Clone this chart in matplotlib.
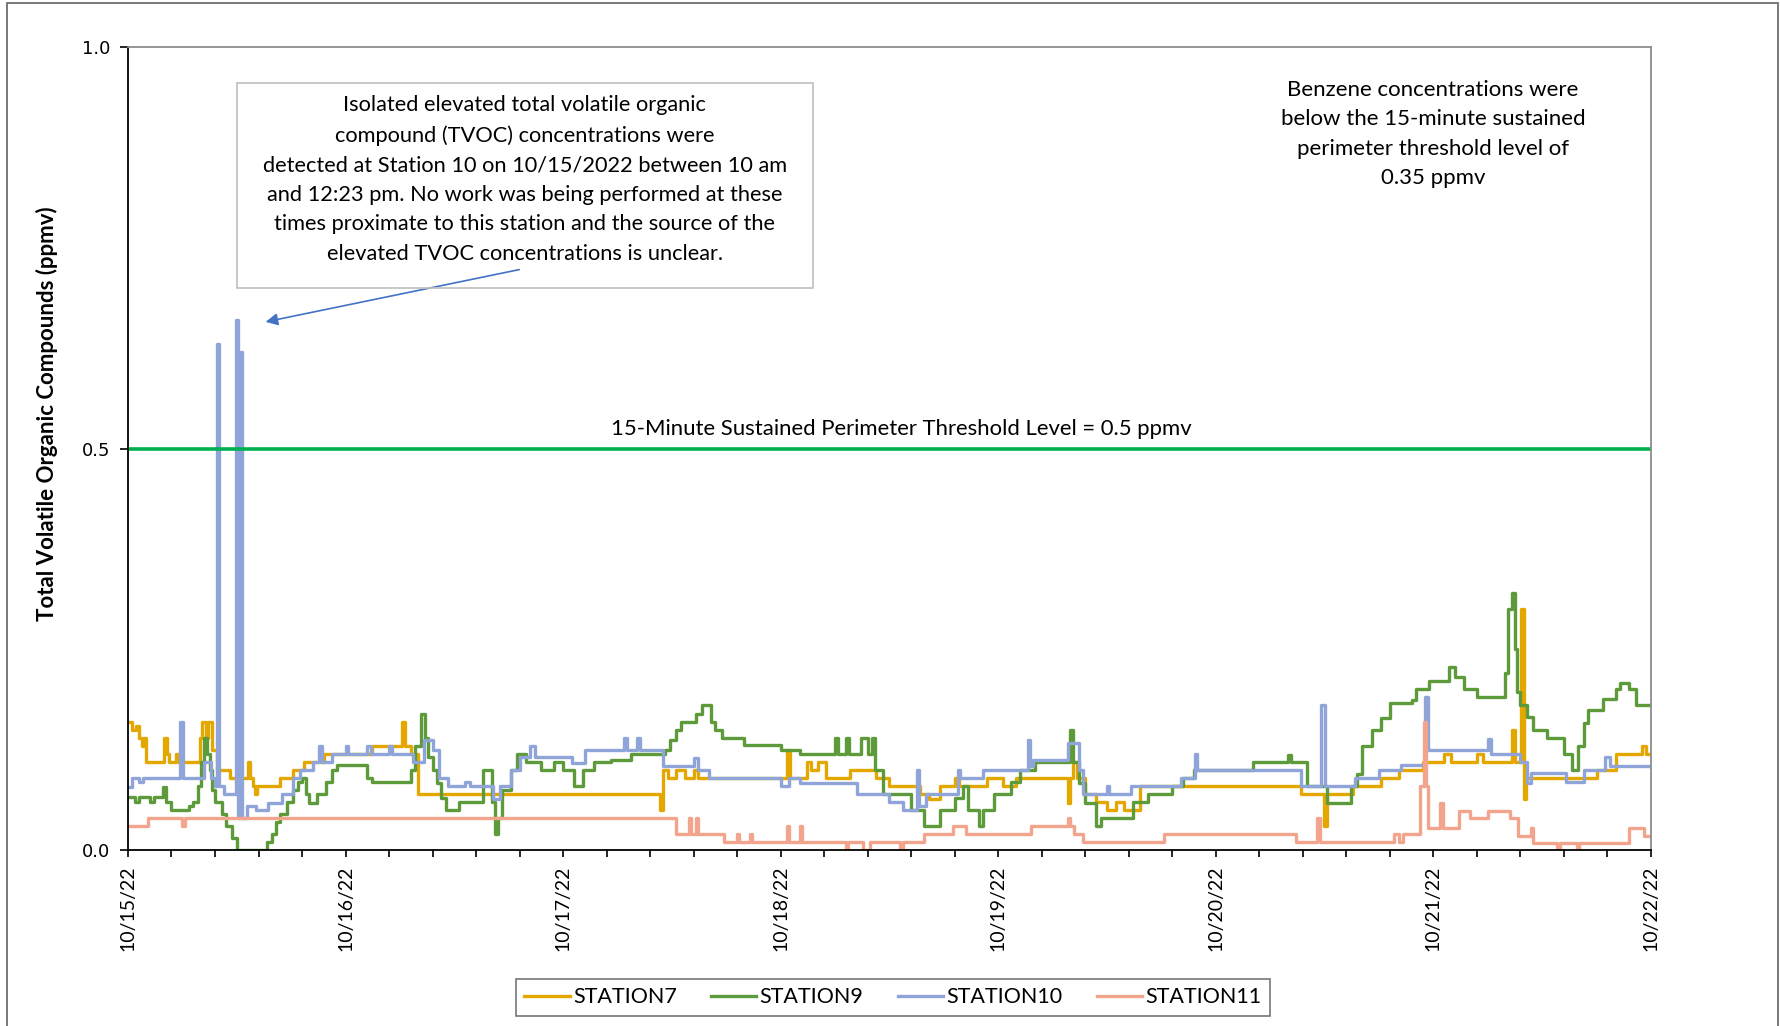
import matplotlib.pyplot as plt
from matplotlib.patches import Rectangle
import numpy as np

# ---- data (days after 10/15/22 00:00, ppmv) -------------------------------
date_labels = ['10/15/22', '10/16/22', '10/17/22', '10/18/22',
               '10/19/22', '10/20/22', '10/21/22', '10/22/22']

t7 = [0.0, 0.02, 0.035, 0.05, 0.065, 0.075, 0.085, 0.165, 0.18, 0.19, 0.22, 0.23,
      0.33, 0.34, 0.36, 0.37, 0.385, 0.41, 0.47, 0.55, 0.56, 0.575, 0.585, 0.595,
      0.70, 0.76, 0.81, 0.90, 1.12, 1.26, 1.275, 1.30, 1.335, 2.445, 2.46, 2.48,
      2.52, 2.56, 2.60, 2.62, 3.03, 3.045, 3.12, 3.14, 3.17, 3.21, 3.32, 3.44,
      3.50, 3.64, 3.68, 3.73, 3.80, 3.82, 3.95, 4.02, 4.08, 4.32, 4.33, 4.345,
      4.36, 4.40, 4.45, 4.50, 4.54, 4.58, 4.65, 5.39, 5.495, 5.51, 5.63, 5.76,
      5.84, 5.95, 6.05, 6.08, 6.20, 6.23, 6.36, 6.375, 6.405, 6.415, 6.425, 6.75,
      6.84, 6.96, 6.975, 7.0]
v7 = [0.16, 0.15, 0.155, 0.14, 0.13, 0.14, 0.11, 0.14, 0.12, 0.11, 0.12, 0.11,
      0.14, 0.16, 0.14, 0.16, 0.125, 0.10, 0.09, 0.11, 0.09, 0.08, 0.07, 0.08,
      0.09, 0.10, 0.11, 0.12, 0.13, 0.16, 0.13, 0.12, 0.07, 0.05, 0.10, 0.09,
      0.10, 0.09, 0.10, 0.09, 0.125, 0.09, 0.11, 0.10, 0.11, 0.09, 0.10, 0.09,
      0.08, 0.07, 0.063, 0.08, 0.09, 0.08, 0.09, 0.08, 0.09, 0.058, 0.09, 0.11,
      0.09, 0.07, 0.06, 0.05, 0.06, 0.05, 0.08, 0.07, 0.03, 0.07, 0.08, 0.09,
      0.10, 0.11, 0.12, 0.11, 0.12, 0.11, 0.15, 0.11, 0.30, 0.063, 0.09, 0.10,
      0.12, 0.13, 0.12, 0.12]

t9 = [0.0, 0.03, 0.05, 0.10, 0.12, 0.16, 0.175, 0.20, 0.28, 0.30, 0.32, 0.335,
      0.35, 0.365, 0.375, 0.385, 0.40, 0.43, 0.45, 0.48, 0.50, 0.64, 0.66, 0.68,
      0.70, 0.73, 0.76, 0.78, 0.80, 0.82, 0.83, 0.87, 0.91, 0.94, 0.96, 1.10,
      1.12, 1.30, 1.32, 1.345, 1.365, 1.38, 1.40, 1.42, 1.44, 1.46, 1.52, 1.63,
      1.675, 1.685, 1.70, 1.72, 1.76, 1.79, 1.83, 1.90, 1.96, 2.00, 2.05, 2.09,
      2.14, 2.22, 2.31, 2.47, 2.49, 2.52, 2.54, 2.61, 2.64, 2.68, 2.70, 2.73,
      2.83, 3.00, 3.09, 3.25, 3.265, 3.30, 3.315, 3.37, 3.40, 3.42, 3.435, 3.47,
      3.60, 3.66, 3.73, 3.80, 3.84, 3.86, 3.91, 3.93, 3.98, 4.06, 4.10, 4.17,
      4.33, 4.345, 4.37, 4.40, 4.45, 4.47, 4.62, 4.69, 4.80, 4.85, 4.90, 5.17,
      5.33, 5.345, 5.42, 5.51, 5.62, 5.65, 5.67, 5.72, 5.76, 5.80, 5.90, 5.92,
      5.98, 6.07, 6.10, 6.14, 6.20, 6.33, 6.345, 6.36, 6.375, 6.385, 6.40, 6.43,
      6.46, 6.52, 6.60, 6.635, 6.665, 6.69, 6.71, 6.78, 6.84, 6.86, 6.90, 6.93,
      7.0]
v9 = [0.066, 0.06, 0.066, 0.06, 0.066, 0.079, 0.06, 0.05, 0.055, 0.06, 0.08, 0.11,
      0.139, 0.12, 0.10, 0.075, 0.06, 0.045, 0.03, 0.015, 0.0, 0.01, 0.02, 0.035,
      0.045, 0.06, 0.075, 0.085, 0.09, 0.07, 0.058, 0.07, 0.085, 0.10, 0.106, 0.09,
      0.085, 0.10, 0.13, 0.17, 0.14, 0.116, 0.10, 0.083, 0.065, 0.05, 0.06, 0.10,
      0.06, 0.02, 0.04, 0.075, 0.10, 0.12, 0.11, 0.10, 0.11, 0.10, 0.08, 0.10,
      0.11, 0.112, 0.12, 0.125, 0.137, 0.15, 0.16, 0.17, 0.18, 0.16, 0.15, 0.139,
      0.131, 0.125, 0.12, 0.139, 0.12, 0.139, 0.12, 0.139, 0.12, 0.139, 0.10, 0.07,
      0.05, 0.03, 0.05, 0.065, 0.08, 0.05, 0.03, 0.05, 0.07, 0.085, 0.10, 0.11,
      0.15, 0.11, 0.083, 0.058, 0.03, 0.04, 0.06, 0.07, 0.08, 0.09, 0.10, 0.11,
      0.118, 0.11, 0.08, 0.058, 0.08, 0.095, 0.13, 0.15, 0.165, 0.183, 0.187, 0.20,
      0.21, 0.228, 0.215, 0.20, 0.19, 0.22, 0.30, 0.32, 0.25, 0.197, 0.18, 0.166,
      0.15, 0.14, 0.12, 0.10, 0.13, 0.158, 0.175, 0.188, 0.20, 0.208, 0.20, 0.18,
      0.18]

t10 = [0.0, 0.02, 0.05, 0.07, 0.24, 0.255, 0.35, 0.38, 0.40, 0.41, 0.42, 0.44,
       0.495, 0.505, 0.515, 0.522, 0.545, 0.59, 0.645, 0.71, 0.76, 0.79, 0.85, 0.88,
       0.89, 0.94, 1.00, 1.01, 1.10, 1.115, 1.20, 1.215, 1.31, 1.36, 1.40, 1.43,
       1.47, 1.55, 1.57, 1.68, 1.71, 1.76, 1.80, 1.85, 1.87, 2.04, 2.10, 2.28,
       2.295, 2.34, 2.355, 2.46, 2.60, 2.62, 2.67, 3.00, 3.04, 3.09, 3.35, 3.50,
       3.56, 3.625, 3.635, 3.67, 3.815, 3.825, 3.93, 4.135, 4.145, 4.16, 4.32, 4.37,
       4.39, 4.50, 4.51, 4.61, 4.84, 4.905, 4.915, 5.39, 5.485, 5.50, 5.64, 5.75,
       5.85, 5.96, 5.975, 6.25, 6.265, 6.40, 6.43, 6.45, 6.61, 6.69, 6.79, 6.81,
       7.0]
v10 = [0.079, 0.09, 0.085, 0.09, 0.16, 0.09, 0.11, 0.09, 0.08, 0.63, 0.08, 0.07,
       0.66, 0.04, 0.62, 0.04, 0.055, 0.05, 0.058, 0.07, 0.09, 0.10, 0.11, 0.13,
       0.11, 0.12, 0.13, 0.12, 0.13, 0.12, 0.13, 0.12, 0.11, 0.137, 0.125, 0.09,
       0.08, 0.085, 0.08, 0.063, 0.08, 0.10, 0.116, 0.13, 0.116, 0.108, 0.125, 0.14,
       0.125, 0.14, 0.125, 0.105, 0.115, 0.10, 0.09, 0.08, 0.09, 0.083, 0.07, 0.06,
       0.05, 0.10, 0.055, 0.07, 0.10, 0.09, 0.10, 0.137, 0.105, 0.112, 0.133, 0.10,
       0.07, 0.08, 0.07, 0.08, 0.09, 0.12, 0.10, 0.08, 0.18, 0.08, 0.09, 0.10,
       0.106, 0.19, 0.125, 0.138, 0.12, 0.11, 0.083, 0.096, 0.085, 0.10, 0.116, 0.105,
       0.105]

t11 = [0.0, 0.094, 0.25, 0.26, 2.52, 2.58, 2.59, 2.61, 2.62, 2.74, 2.80, 2.81,
       2.86, 2.87, 3.03, 3.04, 3.09, 3.10, 3.30, 3.31, 3.38, 3.41, 3.55, 3.56,
       3.66, 3.79, 3.85, 4.15, 4.32, 4.33, 4.35, 4.39, 4.76, 5.37, 5.465, 5.48,
       5.82, 5.84, 5.86, 5.94, 5.955, 5.965, 5.975, 6.03, 6.045, 6.12, 6.17, 6.25,
       6.35, 6.39, 6.45, 6.46, 6.57, 6.58, 6.66, 6.67, 6.90, 6.97, 7.0]
v11 = [0.03, 0.04, 0.03, 0.04, 0.02, 0.04, 0.02, 0.04, 0.02, 0.01, 0.02, 0.01,
       0.02, 0.01, 0.03, 0.01, 0.03, 0.01, 0.0, 0.01, 0.0, 0.01, 0.0, 0.01,
       0.02, 0.03, 0.02, 0.03, 0.04, 0.03, 0.02, 0.01, 0.02, 0.01, 0.04, 0.01,
       0.02, 0.01, 0.02, 0.08, 0.16, 0.08, 0.028, 0.059, 0.028, 0.048, 0.04, 0.048,
       0.04, 0.017, 0.028, 0.009, 0.0, 0.009, 0.0, 0.009, 0.028, 0.017, 0.017]

threshold = 0.5

names = ['STATION7', 'STATION9', 'STATION10', 'STATION11']
colors = ['#E3A700', '#5C9A3A', '#8FA4D8', '#F2A58C']

# ---- figure ------------------------------------------------------------------
fig = plt.figure(figsize=(17.8, 10.26), dpi=100)
ax = fig.add_axes([0.0719, 0.1715, 0.8556, 0.7827])

series = [(t7, v7), (t9, v9), (t10, v10), (t11, v11)]
for (t, v), name, c in zip(series, names, colors):
    ax.plot(t, v, drawstyle='steps-post', color=c, lw=2.4, label=name)

ax.axhline(threshold, color='#00B050', lw=2.6)

ax.set_xlim(0, 7)
ax.set_ylim(0, 1.0)
ax.set_yticks([0.0, 0.5, 1.0])
ax.set_yticklabels(['0.0', '0.5', '1.0'], fontsize=13, family='DejaVu Sans')
ax.set_xticks(range(8))
ax.set_xticklabels(date_labels, rotation=90, fontsize=14, family='Lato')
ax.set_xticks(np.arange(0, 7.01, 0.2), minor=True)
ax.tick_params(axis='x', which='both', direction='out', length=5, width=1.2, pad=6)
ax.tick_params(axis='y', direction='out', length=6, width=1.2, pad=7)

for s in ['left', 'bottom']:
    ax.spines[s].set_color('black')
    ax.spines[s].set_linewidth(1.3)
for s in ['top', 'right']:
    ax.spines[s].set_color('#8C8C8C')
    ax.spines[s].set_linewidth(1.3)

fig.text(0.0265, 0.5965, 'Total Volatile Organic Compounds (ppmv)', rotation=90,
         ha='center', va='center', fontsize=16, fontweight='bold', family='Lato')

# threshold label
ax.text(3.553, 0.524, '15-Minute Sustained Perimeter Threshold Level = 0.5 ppmv',
        ha='center', va='center', fontsize=15.9, family='Lato')

# annotation box
fig.patches.append(Rectangle((0.1331, 0.7193), 0.3236, 0.1998, transform=fig.transFigure,
                             fill=False, edgecolor='#BFBFBF', lw=1.2))
fig.text(0.2949, 0.825,
         'Isolated elevated total volatile organic\n'
         'compound (TVOC) concentrations were\n'
         'detected at Station 10 on 10/15/2022 between 10 am\n'
         'and 12:23 pm. No work was being performed at these\n'
         'times proximate to this station and the source of the\n'
         'elevated TVOC concentrations is unclear.',
         ha='center', va='center', fontsize=15.7, family='Lato', linespacing=1.6)
ax.annotate('', xy=(0.62, 0.657), xytext=(1.811, 0.7235),
            arrowprops=dict(arrowstyle='-|>', color='#4472C4', lw=1.2,
                            mutation_scale=18))

fig.text(0.805, 0.8694,
         'Benzene concentrations were\n'
         'below the 15-minute sustained\n'
         'perimeter threshold level of\n'
         '0.35 ppmv',
         ha='center', va='center', fontsize=16, family='Lato', linespacing=1.6)

# legend
leg = fig.legend(loc='center', bbox_to_anchor=(0.5017, 0.028), ncol=4,
                 prop={'family': 'Lato', 'size': 15.5}, frameon=True, fancybox=False,
                 handlelength=2.1, columnspacing=1.6, handletextpad=0.15,
                 borderpad=0.4, edgecolor='#555555')
leg.get_frame().set_linewidth(1.2)

# outer chart border
fig.patches.append(Rectangle((0.0039, -0.01), 0.995, 1.007, transform=fig.transFigure,
                             fill=False, edgecolor='#6E6E6E', lw=1.3))

fig.savefig('out.png', dpi=100)
